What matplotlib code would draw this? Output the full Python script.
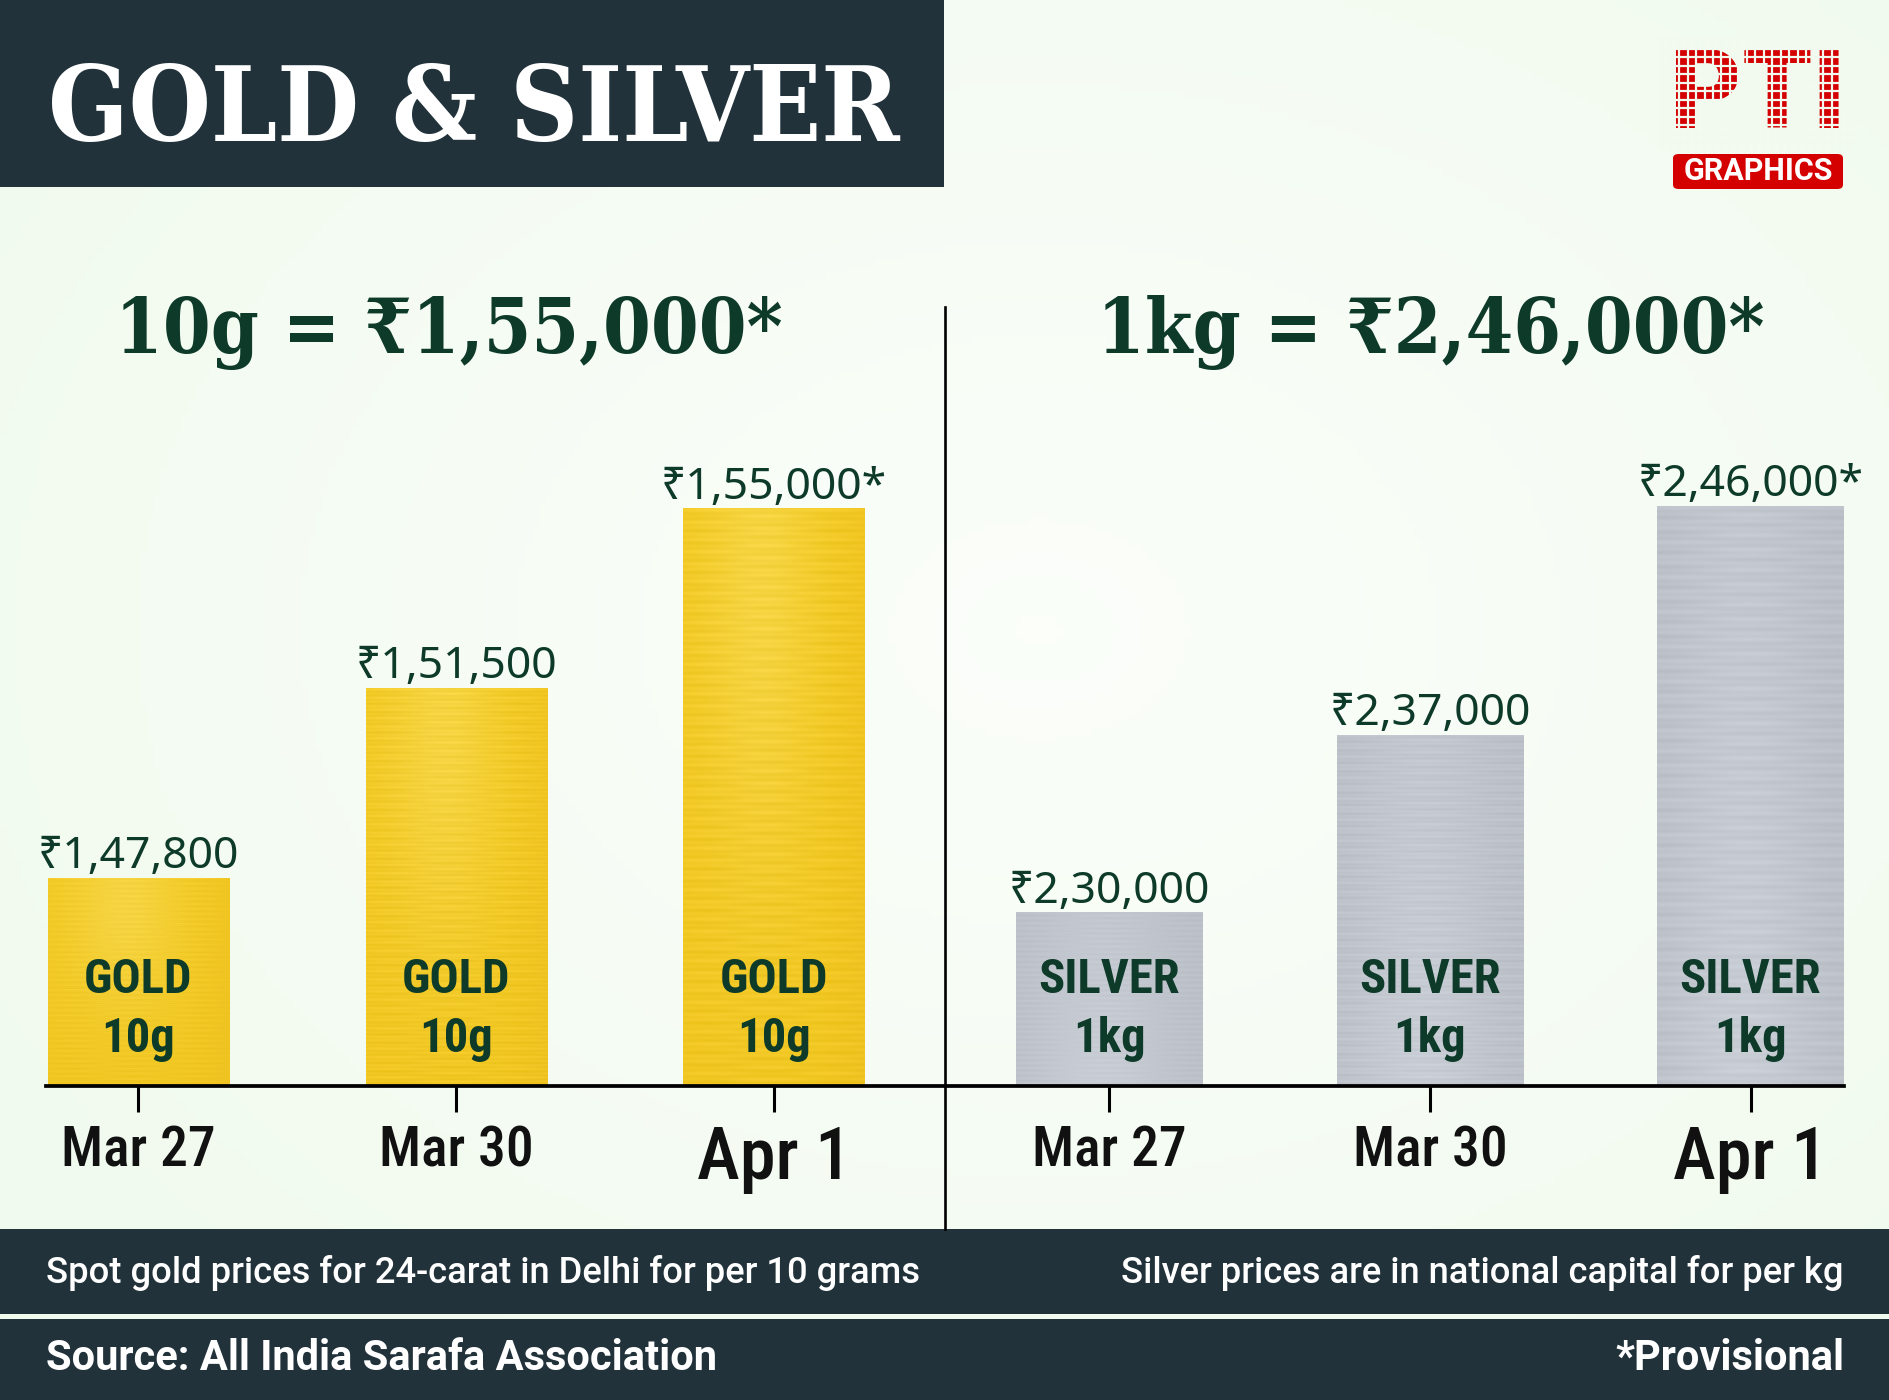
import matplotlib
matplotlib.use("Agg")
import matplotlib.pyplot as plt
import numpy as np
from matplotlib.patches import Rectangle, FancyBboxPatch
from matplotlib.lines import Line2D
import matplotlib.transforms as mtransforms

# ---------------- data ----------------
dates = ["Mar 27", "Mar 30", "Apr 1"]
gold_prices = [147800, 151500, 155000]
gold_labels = ["₹1,47,800", "₹1,51,500", "₹1,55,000*"]
silver_prices = [230000, 237000, 246000]
silver_labels = ["₹2,30,000", "₹2,37,000", "₹2,46,000*"]
gold_headline = "10g = ₹1,55,000*"
silver_headline = "1kg = ₹2,46,000*"
title = "GOLD & SILVER"
note_gold = "Spot gold prices for 24-carat in Delhi for per 10 grams"
note_silver = "Silver prices are in national capital for per kg"
source = "Source: All India Sarafa Association"
provisional = "*Provisional"

# ---------------- style ----------------
W, H = 1890, 1400
DARK = "#22323b"
GREEN = "#0d3a29"
BG = "#f2faf0"
SERIF = ["DejaVu Serif", "DejaVu Sans"]
VALF = ["Noto Sans", "DejaVu Sans"]
COND = ["Roboto Condensed", "DejaVu Sans"]
SANS = ["Roboto", "DejaVu Sans"]

def fx(px):
    return px / W

def fy(py):
    return 1 - py / H

fig = plt.figure(figsize=(W / 100, H / 100), dpi=100)
fig.patch.set_facecolor(BG)

# background subtle gradient
bgax = fig.add_axes([0, 0, 1, 1], zorder=-10)
bgax.axis("off")
gy, gx = np.mgrid[0:1:200j, 0:1:270j]
r = np.sqrt(((gx - 0.55) / 0.85) ** 2 + ((gy - 0.45) / 0.85) ** 2)
c_in = np.array([0.985, 0.997, 0.980])
c_out = np.array([0.935, 0.978, 0.925])
t = np.clip(r, 0, 1)[..., None]
bgax.imshow(c_in * (1 - t) + c_out * t, extent=[0, 1, 0, 1], aspect="auto", origin="upper")
bgax.set_xlim(0, 1)
bgax.set_ylim(0, 1)

# title box
fig.patches.append(Rectangle((0, fy(187)), fx(944), 187 / H, transform=fig.transFigure,
                             facecolor=DARK, edgecolor="none", zorder=1))
fig.text(fx(48), fy(141), title, color="white", fontsize=75.5, fontweight="bold",
         family=SERIF, fontstretch="condensed", ha="left", va="baseline", zorder=2)

# PTI logo (dot-matrix look)
fig.text(fx(1758), fy(128), "PTI", color="#d40000", fontsize=80, fontweight="black",
         family=SANS, ha="center", va="baseline", zorder=2)
for yy in np.arange(40, 150, 8.5):
    fig.lines.append(Line2D([fx(1660), fx(1856)], [fy(yy), fy(yy)], transform=fig.transFigure,
                            color=BG, lw=1.6, zorder=3))
for xx in np.arange(1662, 1856, 8.5):
    fig.lines.append(Line2D([fx(xx), fx(xx)], [fy(38), fy(150)], transform=fig.transFigure,
                            color=BG, lw=1.6, zorder=3))
fig.patches.append(FancyBboxPatch((fx(1673), fy(189)), fx(170), 35 / H, transform=fig.transFigure,
                                  boxstyle="round,pad=0,rounding_size=0.003", facecolor="#d40000",
                                  edgecolor="none", zorder=2))
fig.text(fx(1758), fy(171.5), "GRAPHICS", color="white", fontsize=22, fontweight="bold",
         family=SANS, ha="center", va="center", zorder=4)

# headlines
fig.text(fx(449), fy(353), gold_headline, color=GREEN, fontsize=55, fontweight="bold",
         family=SERIF, fontstretch="condensed", ha="center", va="baseline")
fig.text(fx(1431), fy(353), silver_headline, color=GREEN, fontsize=55, fontweight="bold",
         family=SERIF, fontstretch="condensed", ha="center", va="baseline")

# footer bands
fig.patches.append(Rectangle((0, fy(1314)), 1, 85 / H, transform=fig.transFigure,
                             facecolor=DARK, edgecolor="none", zorder=1))
fig.patches.append(Rectangle((0, 0), 1, 81 / H, transform=fig.transFigure,
                             facecolor=DARK, edgecolor="none", zorder=1))
fig.text(fx(46), fy(1273), note_gold, color="white", fontsize=26.2, fontweight="medium",
         family=SANS, ha="left", va="center", zorder=2)
fig.text(fx(1844), fy(1273), note_silver, color="white", fontsize=26.2, fontweight="medium",
         family=SANS, ha="right", va="center", zorder=2)
fig.text(fx(46), fy(1359), source, color="white", fontsize=30, fontweight="bold",
         family=SANS, ha="left", va="center", zorder=2)
fig.text(fx(1844), fy(1359), provisional, color="white", fontsize=30, fontweight="bold",
         family=SANS, ha="right", va="center", zorder=2)

# divider
fig.lines.append(Line2D([fx(945), fx(945)], [fy(307), fy(1229)], transform=fig.transFigure,
                        color="black", lw=1.9, zorder=5))

# textures (brushed metal look)
def gold_texture(n=400, m=60):
    yy = np.linspace(0, 1, n)[:, None]
    xx = np.linspace(0, 1, m)[None, :]
    light = np.array([0.98, 0.88, 0.38])
    mid = np.array([0.95, 0.79, 0.14])
    deep = np.array([0.91, 0.71, 0.10])
    hl = 0.5 * np.exp(-((xx - 0.42) / 0.3) ** 2) * np.exp(-((yy - 0.15) / 0.5) ** 2)
    stripes = 0.025 * (np.sin(yy * 611.0) + np.sin(yy * 257.0 + 1.3) * np.sin(xx * 9.0 + 0.4))
    dark_edge = np.clip((xx - 0.75) / 0.25, 0, 1) * 0.35 + yy * 0.25
    img = mid * (1 - hl[..., None]) + light * hl[..., None]
    img = img * (1 - dark_edge[..., None] * 0.5) + deep * dark_edge[..., None] * 0.5
    img = img + stripes[..., None] * np.array([0.5, 0.5, 0.8])
    return np.clip(img, 0, 1)

def silver_texture(n=400, m=60):
    yy = np.linspace(0, 1, n)[:, None]
    xx = np.linspace(0, 1, m)[None, :]
    light = np.array([0.80, 0.82, 0.85])
    base = np.array([0.73, 0.75, 0.78])
    hl = 0.8 * np.exp(-((xx - 0.45) / 0.4) ** 2) * (0.6 + 0.4 * yy)
    stripes = 0.012 * (np.sin(yy * 523.0) + np.sin(yy * 211.0 + 0.7) * np.sin(xx * 7.0 + 1.1))
    img = base * (1 - hl[..., None]) + light * hl[..., None]
    img = img + stripes[..., None]
    return np.clip(img, 0, 1)

# axes
ax_y0 = (H - 1086) / H
ax_h = (1086 - 300) / H
axL = fig.add_axes([fx(46), ax_y0, fx(898), ax_h])
axR = fig.add_axes([fx(946), ax_y0, fx(898), ax_h])

def setup(ax, prices, labels, word, unit, width, xlim, ylim, tex, color):
    x = np.arange(len(prices))
    bars = ax.bar(x, prices, width=width, color=color, edgecolor="none", zorder=2)
    for b in bars:
        x0 = b.get_x()
        im = ax.imshow(tex, extent=[x0, x0 + b.get_width(), ylim[0], b.get_height()],
                       aspect="auto", origin="upper", zorder=2.5, interpolation="bilinear")
        im.set_clip_path(b)
    ax.set_xlim(*xlim)
    ax.set_ylim(*ylim)
    ax.set_facecolor("none")
    for s in ["top", "left", "right"]:
        ax.spines[s].set_visible(False)
    ax.spines["bottom"].set_linewidth(2.7)
    ax.spines["bottom"].set_color("black")
    ax.spines["bottom"].set_zorder(4)
    ax.set_yticks([])
    ax.set_xticks(x)
    ax.set_xticklabels(dates)
    ax.tick_params(axis="x", direction="out", length=19, width=2.2, color="black", pad=9)
    for i, tl in enumerate(ax.get_xticklabels()):
        tl.set_family(COND)
        tl.set_fontweight("medium")
        tl.set_color("#111111")
        tl.set_fontsize(52 if i == len(dates) - 1 else 40)
    trans = mtransforms.blended_transform_factory(ax.transData, ax.transAxes)
    for xi, p, lab in zip(x, prices, labels):
        ax.annotate(lab, xy=(xi, p), xytext=(0, 7), textcoords="offset points",
                    ha="center", va="baseline", fontsize=32, color=GREEN, family=VALF,
                    zorder=6, annotation_clip=False)
        ax.text(xi, 0.135, word, transform=trans, ha="center", va="center", fontsize=35,
                fontweight="bold", color=GREEN, family=COND, zorder=6)
        ax.text(xi, 0.060, unit, transform=trans, ha="center", va="center", fontsize=35,
                fontweight="bold", color=GREEN, family=COND, zorder=6)

setup(axL, gold_prices, gold_labels, "GOLD", "10g", 0.571, (-0.291, 2.535), (143750, 159060),
      gold_texture(), "#f0c419")
setup(axR, silver_prices, silver_labels, "SILVER", "1kg", 0.583, (-0.5097, 2.2915), (223170, 254100),
      silver_texture(), "#bfc3c8")

fig.savefig("out.png", dpi=100, facecolor=fig.get_facecolor())
